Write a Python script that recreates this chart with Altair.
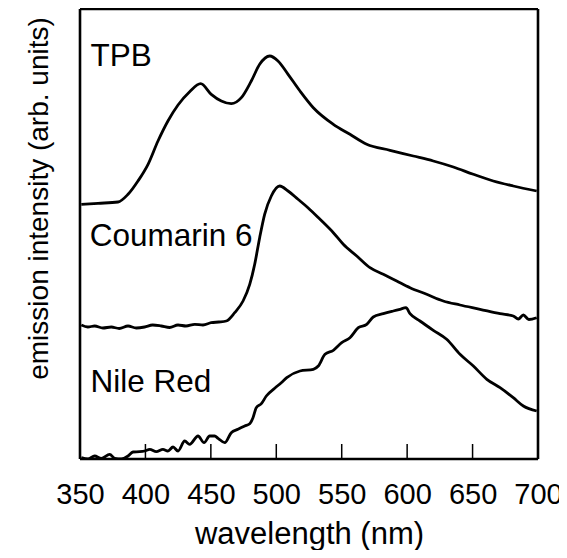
import altair as alt
import pandas as pd

# --- data (wavelength in nm, intensity in arbitrary units) ---
tpb_nm = [351.0, 363.8, 379.0, 386.7, 394.3, 402.0, 409.6, 417.2, 424.9, 433.8, 442.2,
          450.3, 458.0, 465.6, 473.3, 480.9, 487.3, 495.0, 501.3, 509.0, 518.1, 528.3,
          543.6, 556.3, 569.1, 586.9, 604.7, 620.0, 635.3, 650.6, 665.8, 681.1, 699.0]
tpb_int = [254.7, 255.7, 257.0, 264.7, 278.0, 294.7, 318.0, 338.0, 354.0, 367.3, 375.3,
           364.7, 358.0, 355.3, 361.3, 378.0, 394.7, 403.0, 398.0, 384.7, 368.0, 351.3,
           334.7, 324.7, 314.7, 308.7, 303.0, 298.0, 292.0, 284.7, 278.0, 273.0, 268.0]

c6_nm = [351.0, 356.0, 361.2, 367.5, 373.9, 380.0, 386.7, 393.0, 399.4, 405.5, 412.1, 418.5,
         424.9, 431.0, 437.7, 444.0, 450.3, 456.0, 461.8, 468.2, 474.6, 479.7, 483.5, 487.3,
         491.1, 496.2, 502.6, 509.0, 516.6, 524.2, 533.4, 543.6, 551.2, 561.5, 571.6, 581.8,
         592.0, 602.2, 614.9, 627.6, 640.4, 655.7, 671.0, 681.1, 685.0, 688.8, 693.0, 699.0]
c6_int = [134.0, 132.0, 133.0, 131.0, 132.0, 130.5, 133.0, 131.0, 132.0, 134.0, 133.0, 131.5,
          134.0, 133.0, 134.7, 134.0, 136.3, 137.0, 138.0, 146.3, 158.0, 174.7, 194.7, 221.3,
          244.7, 263.0, 273.0, 268.0, 259.7, 251.3, 239.7, 226.3, 214.7, 203.0, 191.3, 184.7,
          178.0, 171.3, 164.7, 158.0, 154.0, 149.7, 145.3, 143.0, 140.0, 144.0, 139.5, 141.3]

nr_nm = [351.0, 356.1, 361.2, 366.3, 372.7, 376.5, 381.6, 386.7, 390.5, 395.6, 399.4, 403.3,
         408.3, 413.4, 417.2, 421.1, 424.9, 430.0, 433.8, 440.2, 444.8, 449.1, 452.9, 455.5,
         460.6, 465.6, 470.7, 475.9, 479.7, 482.2, 484.7, 488.6, 492.4, 498.8, 503.8, 508.0,
         518.1, 528.3, 532.1, 537.2, 543.6, 550.0, 556.3, 562.7, 569.1, 574.1, 581.8, 589.4,
         594.5, 599.1, 602.2, 609.8, 620.0, 630.2, 640.4, 650.6, 660.9, 671.0, 681.1, 688.8, 699.0]
nr_int = [1.3, 0.0, 3.0, 0.7, 4.7, 0.7, 0.0, 3.0, 7.0, 7.3, 8.0, 9.7,
          7.3, 9.7, 8.0, 12.0, 8.0, 18.0, 14.7, 23.0, 16.3, 23.0, 23.0, 20.7,
          16.3, 26.3, 29.7, 33.0, 35.3, 41.3, 51.3, 55.3, 63.0, 70.7, 76.3, 81.3,
          88.0, 89.7, 93.0, 104.7, 108.7, 116.3, 121.3, 131.3, 134.7, 142.0, 145.3, 148.0,
          149.7, 151.3, 145.3, 138.0, 128.7, 119.7, 104.7, 93.0, 79.7, 71.3, 61.3, 53.0, 48.0]

label_text = ["TPB", "Coumarin 6", "Nile Red"]
label_nm = [358.0, 357.5, 358.0]
label_int = [393.0, 213.0, 67.0]

tick_nm = [400, 450, 500, 550, 600, 650]
axis_vals = [350, 400, 450, 500, 550, 600, 650, 700]

FONT = "Liberation Sans"

rows = []
for name, xs, ys in [("TPB", tpb_nm, tpb_int), ("Coumarin 6", c6_nm, c6_int), ("Nile Red", nr_nm, nr_int)]:
    for xv, yv in zip(xs, ys):
        rows.append({"series": name, "nm": xv, "intensity": yv})
df = pd.DataFrame(rows)
labels_df = pd.DataFrame({"text": label_text, "nm": label_nm, "intensity": label_int})
ticks_df = pd.DataFrame({"nm": tick_nm, "y0": [0] * len(tick_nm), "y1": [15] * len(tick_nm)})

# frame edges: top, right, bottom, left
frame_df = pd.DataFrame({"x0": [350, 700, 350, 350], "x1": [700, 700, 700, 350],
                         "y0": [450, 0, 0, 0], "y1": [450, 450, 0, 450]})

xscale = alt.Scale(domain=[350, 700], nice=False, zero=False)
yscale = alt.Scale(domain=[0, 450], nice=False, zero=False)

xaxis = alt.Axis(values=axis_vals, format="d", ticks=False, grid=False, domain=False,
                 labelFontSize=29, labelFont=FONT, labelColor="black", labelPadding=21,
                 title="wavelength (nm)", titleFontSize=31, titleFont=FONT,
                 titleFontWeight="normal", titleColor="black", titlePadding=10,
                 labelFlush=False)
yaxis = alt.Axis(labels=False, ticks=False, grid=False, domain=False,
                 title="emission intensity (arb. units)", titleFontSize=28, titleFont=FONT,
                 titleFontWeight="normal", titleColor="black",
                 titleX=-27, titleY=189, titleAngle=-90, titleAlign="center",
                 titleBaseline="bottom")

lines = alt.Chart(df).mark_line(color="black", strokeWidth=2.8, clip=True,
                                strokeJoin="round", interpolate="monotone").encode(
    x=alt.X("nm:Q", scale=xscale, axis=xaxis),
    y=alt.Y("intensity:Q", scale=yscale, axis=yaxis),
    detail="series:N",
    order="nm:Q",
)

ticks = alt.Chart(ticks_df).mark_rule(color="black", strokeWidth=1.5).encode(
    x=alt.X("nm:Q", scale=xscale),
    y=alt.Y("y0:Q", scale=yscale),
    y2="y1:Q",
)

frame = alt.Chart(frame_df).mark_rule(color="black", strokeWidth=2.6).encode(
    x=alt.X("x0:Q", scale=xscale),
    x2="x1:Q",
    y=alt.Y("y0:Q", scale=yscale),
    y2="y1:Q",
)

texts = alt.Chart(labels_df).mark_text(align="left", baseline="alphabetic", fontSize=31.5,
                                       font=FONT, color="black").encode(
    x=alt.X("nm:Q", scale=xscale),
    y=alt.Y("intensity:Q", scale=yscale),
    text="text:N",
)

chart = alt.layer(lines, ticks, frame, texts).properties(
    width=458, height=450,
    autosize=alt.AutoSizeParams(type="none"),
    padding={"left": 72, "top": 1, "right": 21, "bottom": 91},
).configure_view(stroke=None).configure(background="white")

chart.save("out.html", embed_options={"renderer": "svg", "actions": False})
